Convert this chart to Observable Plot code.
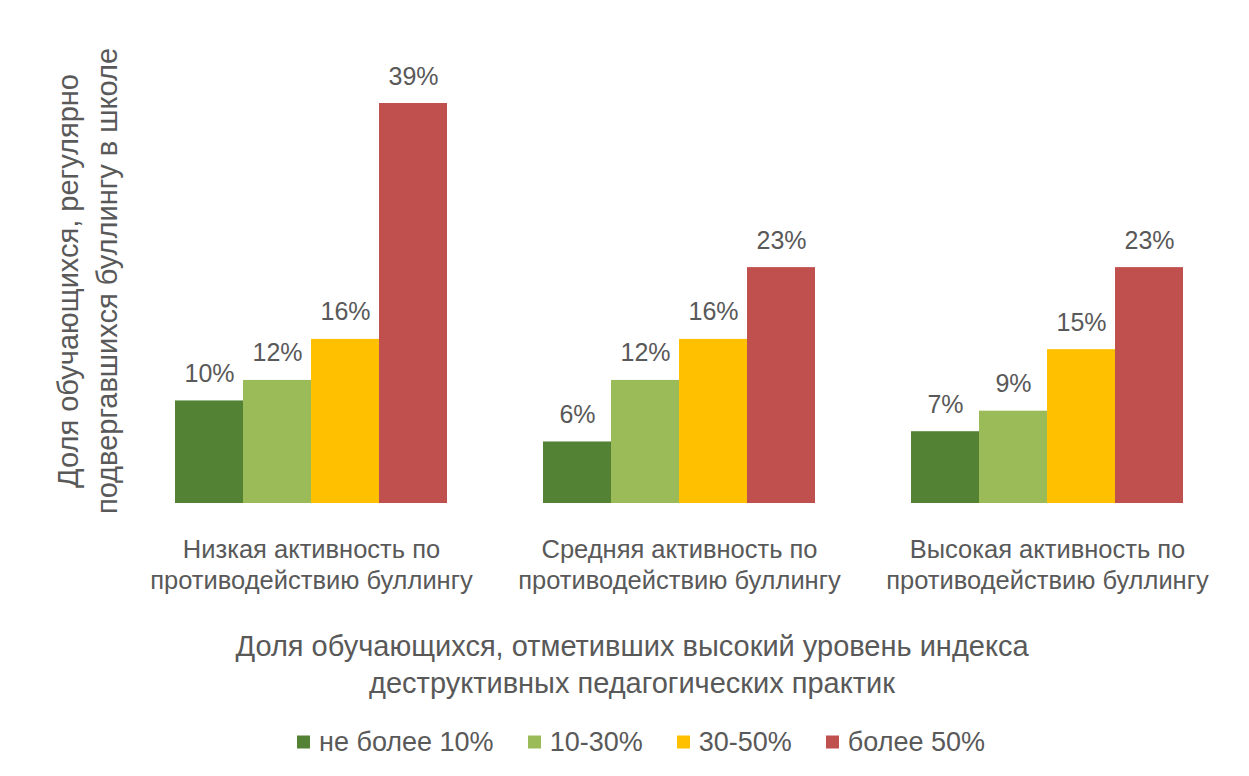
<!DOCTYPE html>
<html>
<head>
<meta charset="utf-8">
<script src="https://cdn.jsdelivr.net/npm/d3@7"></script>
<script src="https://cdn.jsdelivr.net/npm/@observablehq/plot@0.6"></script>
<style>
  body { margin: 0; background: #fff; width: 1249px; height: 776px; position: relative; overflow: hidden;
         font-family: "Liberation Sans", Arial, sans-serif; color: #595959; }
  #chart { position: absolute; left: 0; top: 0; }
  #ylabel { position: absolute; left: 88px; top: 281px; transform: translate(-50%, -50%) rotate(-90deg);
            text-align: center; font-size: 29px; line-height: 39px; white-space: nowrap; }
  #xtitle { position: absolute; left: 632px; top: 665px; transform: translate(-50%, -50%);
            text-align: center; font-size: 29px; line-height: 37px; white-space: nowrap; }
  #legend { position: absolute; left: 641px; top: 742px; transform: translate(-50%, -50%);
            display: flex; align-items: center; font-size: 27px; white-space: nowrap; }
  .item { display: flex; align-items: center; margin: 0 17px; }
  .sw { display: inline-block; width: 13px; height: 13px; margin-right: 9px; }
</style>
</head>
<body>
<div id="chart"></div>
<div id="ylabel"></div>
<div id="xtitle"></div>
<div id="legend"></div>
<script>
// Data
const groups = [
  "Низкая активность по\nпротиводействию буллингу",
  "Средняя активность по\nпротиводействию буллингу",
  "Высокая активность по\nпротиводействию буллингу"
];
const series = ["не более 10%", "10-30%", "30-50%", "более 50%"];
const colors = ["#548235", "#9BBB59", "#FFC000", "#C0504D"];
const lowActivity = [10, 12, 16, 39];
const midActivity = [6, 12, 16, 23];
const highActivity = [7, 9, 15, 23];
const yTitle = ["Доля обучающихся, регулярно", "подвергавшихся буллингу в школе"];
const xTitle = ["Доля обучающихся, отметивших высокий уровень индекса", "деструктивных педагогических практик"];

const valuesByGroup = [lowActivity, midActivity, highActivity];
const data = groups.flatMap((g, i) => series.map((s, j) => ({group: g, series: s, value: valuesByGroup[i][j]})));

const chart = Plot.plot({
  width: 1249,
  height: 610,
  marginTop: 103,
  marginBottom: 107,
  marginLeft: 138,
  marginRight: 29,
  style: {fontFamily: '"Liberation Sans", Arial, sans-serif', color: "#595959", background: "transparent"},
  fx: {domain: groups, paddingInner: 0.26, paddingOuter: 0.1, axis: null, label: null},
  x: {domain: series, padding: 0, axis: null},
  y: {domain: [0, 39], axis: null},
  color: {domain: series, range: colors},
  marks: [
    Plot.barY(data, {fx: "group", x: "series", y: "value", fill: "series"}),
    Plot.text(data, {fx: "group", x: "series", y: "value", text: d => d.value + "%",
      lineAnchor: "bottom", dy: -19, fontSize: 25, fill: "#595959"}),
    Plot.text(groups, {fx: d => d, text: d => d, frameAnchor: "bottom", lineAnchor: "middle",
      dy: 60, fontSize: 25.5, lineHeight: 1.24, fill: "#595959"})
  ]
});
document.getElementById("chart").appendChild(chart);

document.getElementById("ylabel").innerHTML = yTitle.join("<br>");
document.getElementById("xtitle").innerHTML = xTitle.join("<br>");
const legend = document.getElementById("legend");
series.forEach((s, i) => {
  const it = document.createElement("span");
  it.className = "item";
  const sw = document.createElement("span");
  sw.className = "sw";
  sw.style.background = colors[i];
  it.appendChild(sw);
  it.appendChild(document.createTextNode(s));
  legend.appendChild(it);
});
</script>
</body>
</html>
